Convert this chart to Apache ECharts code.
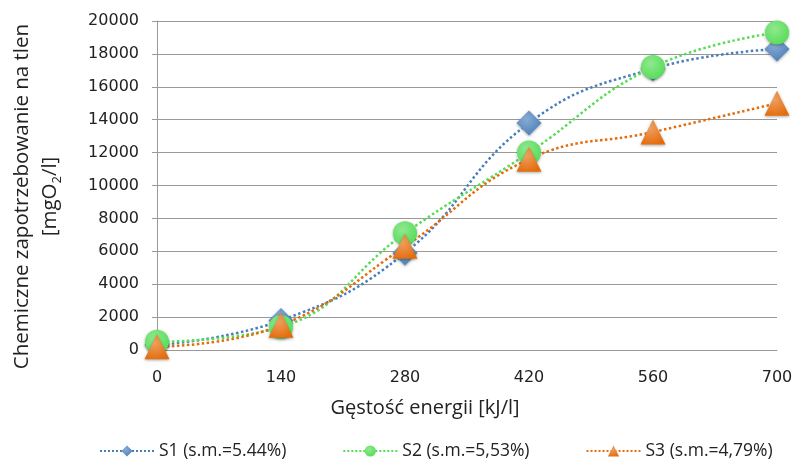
<!DOCTYPE html>
<html>
<head>
<meta charset="utf-8">
<script src="https://cdn.jsdelivr.net/npm/echarts@6/dist/echarts.min.js"></script>
<style>
  html, body { margin: 0; padding: 0; background: #fff; }
  #chart { width: 795px; height: 460px; }
</style>
</head>
<body>
<div id="chart"></div>
<script>
// energy density [kJ/l]
const energy = [0, 140, 280, 420, 560, 700];
// COD [mgO2/l]
const s1 = [300, 1800, 5900, 13800, 17100, 18300];
const s2 = [500, 1400, 7100, 12000, 17200, 19300];
const s3 = [200, 1500, 6300, 11600, 13250, 15000];
const seriesNames = ['S1 (s.m.=5.44%)', 'S2 (s.m.=5,53%)', 'S3 (s.m.=4,79%)'];
const yTicks = { min: 0, max: 20000, step: 2000 };

const pair = vals => energy.map((x, i) => [x, vals[i]]);

const chart = echarts.init(document.getElementById('chart'));

function makeSeries(name, vals, color, symbol, size) {
  return {
    name,
    type: 'line',
    data: pair(vals),
    smooth: 0.45,
    symbol,
    symbolSize: size,
    lineStyle: { type: 'dotted', width: 2.5, color },
    itemStyle: {
      color: new echarts.graphic.RadialGradient(0.4, 0.35, 0.7, [
        { offset: 0, color: echarts.color.lift(color, 0.35) },
        { offset: 1, color }
      ]),
      shadowBlur: 3,
      shadowColor: 'rgba(0,0,0,0.35)',
      shadowOffsetY: 1
    }
  };
}

chart.setOption({
  animation: false,
  textStyle: { fontFamily: 'DejaVu Sans' },
  grid: { left: 157, right: 18, top: 21, bottom: 110, outerBoundsMode: 'none', containLabel: false },
  legend: {
    top: 437,
    left: 94,
    itemGap: 56,
    itemWidth: 54,
    itemHeight: 14,
    textStyle: { fontFamily: 'Open Sans', fontSize: 17.5, color: '#222' },
    data: seriesNames.map(n => ({ name: n, itemStyle: { shadowBlur: 0 } }))
  },
  xAxis: {
    type: 'value',
    min: 0,
    max: 700,
    interval: 140,
    name: 'Gęstość energii [kJ/l]',
    nameLocation: 'middle',
    nameGap: 48,
    nameTextStyle: { fontFamily: 'Open Sans', fontSize: 20, color: '#222', padding: [0, 84, 0, 0] },
    axisLine: { lineStyle: { color: '#999' } },
    axisTick: { show: false },
    axisLabel: { color: '#222', fontSize: 16, margin: 20 },
    splitLine: { show: false }
  },
  yAxis: {
    type: 'value',
    min: yTicks.min,
    max: yTicks.max,
    interval: yTicks.step,
    name: 'Chemiczne zapotrzebowanie na tlen\n[mgO{sub|2}/l]',
    nameLocation: 'middle',
    nameRotate: 90,
    nameGap: 93,
    nameTextStyle: {
      fontFamily: 'Open Sans',
      fontSize: 20.5,
      color: '#222',
      lineHeight: 28,
      padding: [0, 22, 0, 0],
      rich: { sub: { fontFamily: 'Open Sans', fontSize: 13, verticalAlign: 'bottom', padding: [10, 0, 0, 0], color: '#222' } }
    },
    axisLine: { show: true, lineStyle: { color: '#999' } },
    axisTick: { show: true, length: 5, lineStyle: { color: '#999' } },
    axisLabel: { color: '#222', fontSize: 16, margin: 18, formatter: v => String(v) },
    splitLine: { lineStyle: { color: '#999', width: 1 } }
  },
  series: [
    makeSeries(seriesNames[0], s1, '#4a7ebb', 'diamond', 25),
    makeSeries(seriesNames[1], s2, '#55dd55', 'circle', 24),
    makeSeries(seriesNames[2], s3, '#e46c0a', 'triangle', 25)
  ]
});
</script>
</body>
</html>
